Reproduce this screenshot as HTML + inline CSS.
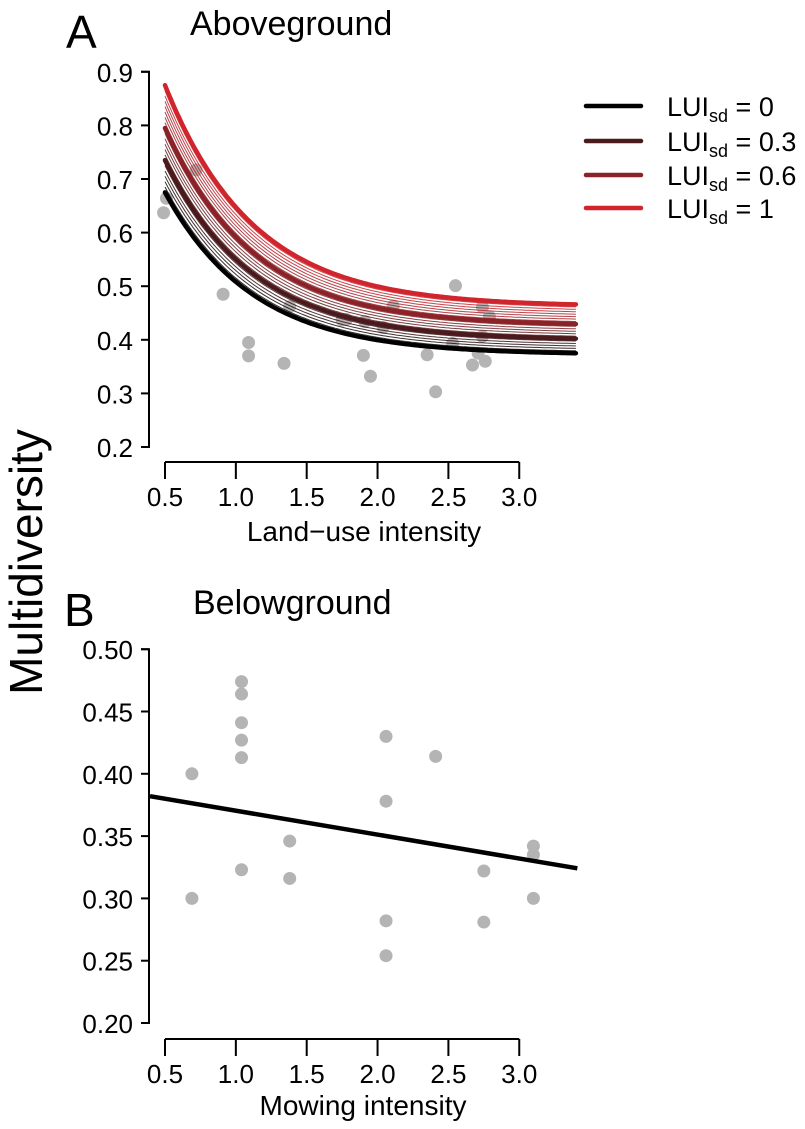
<!DOCTYPE html>
<html><head><meta charset="utf-8"><style>
html,body{margin:0;padding:0;background:#fff;}
svg{display:block;font-family:"Liberation Sans",Arial,sans-serif;}
</style></head><body>
<svg id="fig" width="805" height="1129" viewBox="0 0 805 1129">
<text x="66" y="48" font-size="46">A</text>
<text x="190" y="35" font-size="34">Aboveground</text>
<text x="64" y="626" font-size="46">B</text>
<text x="193" y="614" font-size="34">Belowground</text>
<text transform="translate(42,562) rotate(-90)" text-anchor="middle" font-size="46">Multidiversity</text>
<text x="364" y="541" text-anchor="middle" font-size="28">Land−use intensity</text>
<text x="363" y="1115" text-anchor="middle" font-size="28">Mowing intensity</text>
<g id="legend"></g>
<g id="pa"></g>
<g id="pb"></g>
</svg>
<script>
// Shared x axis
const xTicks = [0.5, 1.0, 1.5, 2.0, 2.5, 3.0];
const xTickLabels = ["0.5", "1.0", "1.5", "2.0", "2.5", "3.0"];
// Panel A
const aYTicks = [0.2, 0.3, 0.4, 0.5, 0.6, 0.7, 0.8, 0.9];
const aYTickLabels = ["0.2", "0.3", "0.4", "0.5", "0.6", "0.7", "0.8", "0.9"];
const aPointsX = [0.49,0.51,0.72,0.91,1.09,1.09,1.34,1.38,1.75,1.78,1.91,1.90,1.95,2.04,2.11,2.35,2.41,2.53,2.55,2.67,2.74,2.79,2.74,2.71,2.76];
const aPointsY = [0.637,0.664,0.717,0.485,0.395,0.370,0.356,0.462,0.437,0.438,0.434,0.371,0.332,0.423,0.463,0.372,0.303,0.393,0.501,0.353,0.461,0.443,0.406,0.375,0.360];
const lineSd = [0, 0.05, 0.1, 0.15, 0.2, 0.25, 0.3, 0.35, 0.4, 0.45, 0.5, 0.55, 0.6, 0.65, 0.7, 0.75, 0.8, 0.85, 0.9, 0.95, 1];
const legendSd = [0, 0.3, 0.6, 1];
const legendLabels = ["0", "0.3", "0.6", "1"];
const legendColors = ["#000000", "#4a1a1c", "#8a2228", "#d1252d"];
const modelStart = [0.675, 0.2];
const modelAsym = [0.372, 0.09];
const modelRate = [1.6];
// Panel B
const bYTicks = [0.20, 0.25, 0.30, 0.35, 0.40, 0.45, 0.50];
const bYTickLabels = ["0.20", "0.25", "0.30", "0.35", "0.40", "0.45", "0.50"];
const bPointsX = [0.69,0.69,1.04,1.04,1.04,1.04,1.04,1.04,1.38,1.38,2.06,2.06,2.06,2.06,2.41,2.75,2.75,3.10,3.10,3.10];
const bPointsY = [0.400,0.300,0.474,0.464,0.441,0.427,0.413,0.323,0.346,0.316,0.430,0.378,0.282,0.254,0.414,0.322,0.281,0.342,0.335,0.300];
const bFit = [0.3896, -0.0192];

const NS = "http://www.w3.org/2000/svg";
function mk(parent, tag, attrs, text){const e=document.createElementNS(NS,tag);for(const k in attrs)e.setAttribute(k,attrs[k]);if(text!==undefined)e.textContent=text;parent.appendChild(e);return e;}
const xS = v => 165 + (v - 0.5) * 141.7;
const xMax = 3.41;
const ayS = v => 447 - (v - 0.2) * 536;
const byS = v => 1023 - (v - 0.2) * 1246;

function axes(g, yS, yT, yL, yTop, yBot, xAxisY, prefix){
  const ya = mk(g,'path',{d:`M141 ${yS(yTop)} H149 V${yS(yBot)} H141`,fill:'none',stroke:'#000','stroke-width':2});
  
  
  yT.forEach((t,i)=>{
    const tk = mk(g,'line',{x1:141,x2:149,y1:yS(t),y2:yS(t),stroke:'#000','stroke-width':2});
    
    
    const lb = mk(g,'text',{x:133,y:yS(t)+10,'text-anchor':'end','font-size':26},yL[i]);
    
    
  });
  const xa = mk(g,'line',{x1:xS(xTicks[0]),x2:xS(xTicks[xTicks.length-1]),y1:xAxisY,y2:xAxisY,stroke:'#000','stroke-width':2});
  
  
  xTicks.forEach((t,i)=>{
    const tk = mk(g,'line',{x1:xS(t),x2:xS(t),y1:xAxisY,y2:xAxisY+17,stroke:'#000','stroke-width':2});
    
    
    const lb = mk(g,'text',{x:xS(t),y:xAxisY+44,'text-anchor':'middle','font-size':26},xTickLabels[i]);
    
    
  });
}

function lerpColor(sd){
  let i=0; while(i<legendSd.length-2 && sd>legendSd[i+1]) i++;
  const t=(sd-legendSd[i])/(legendSd[i+1]-legendSd[i]);
  const c1=legendColors[i], c2=legendColors[i+1];
  const h=(c,o)=>parseInt(c.substr(o,2),16);
  const r=[1,3,5].map(o=>Math.round(h(c1,o)+(h(c2,o)-h(c1,o))*t));
  return `rgb(${r[0]},${r[1]},${r[2]})`;
}
function curve(sd){
  const s=modelStart[0]+modelStart[1]*sd, a=modelAsym[0]+modelAsym[1]*sd;
  let d='';
  for(let x=0.5;x<=xMax+1e-9;x+=0.02){const y=a+(s-a)*Math.exp(-modelRate[0]*(x-0.5));d+=(d?'L':'M')+xS(x).toFixed(1)+' '+ayS(y).toFixed(1);}
  return d;
}

// Panel A
const pa=document.getElementById('pa');
axes(pa, ayS, aYTicks, aYTickLabels, 0.9, 0.2, 462, 'panel-a');
aPointsX.forEach((x,i)=>{
  const c=mk(pa,'circle',{cx:xS(x),cy:ayS(aPointsY[i]),r:6.5,fill:'#b4b4b4'});
  
  
});
lineSd.forEach(sd=>{
  if(legendSd.includes(sd)) return;
  const p=mk(pa,'path',{d:curve(sd),fill:'none',stroke:lerpColor(sd),'stroke-width':1,opacity:0.85});
  
  
});
legendSd.forEach((sd,i)=>{
  const p=mk(pa,'path',{d:curve(sd),fill:'none',stroke:legendColors[i],'stroke-width':4.5,'stroke-linecap':'round'});
  
  
});

// Legend
const lg=document.getElementById('legend');
const legY=[106,141,175,208];
legendSd.forEach((sd,i)=>{
  const l=mk(lg,'line',{x1:586,x2:641,y1:legY[i],y2:legY[i],stroke:legendColors[i],'stroke-width':4.5,'stroke-linecap':'round'});
  
  
  const t=mk(lg,'text',{x:667,y:legY[i]+10,'font-size':27});
  
  
  t.appendChild(document.createTextNode('LUI'));
  mk(t,'tspan',{'font-size':18,dy:6},'sd');
  mk(t,'tspan',{dy:-6},' = '+legendLabels[i]);
});

// Panel B
const pb=document.getElementById('pb');
axes(pb, byS, bYTicks, bYTickLabels, 0.5, 0.2, 1039, 'panel-b');
bPointsX.forEach((x,i)=>{
  const c=mk(pb,'circle',{cx:xS(x),cy:byS(bPointsY[i]),r:6.5,fill:'#b4b4b4'});
  
  
});
const x0=0.394;
const fl=mk(pb,'line',{x1:xS(x0),y1:byS(bFit[0]+bFit[1]*x0),x2:xS(xMax),y2:byS(bFit[0]+bFit[1]*xMax),stroke:'#000','stroke-width':4.5});


</script>
</body></html>
